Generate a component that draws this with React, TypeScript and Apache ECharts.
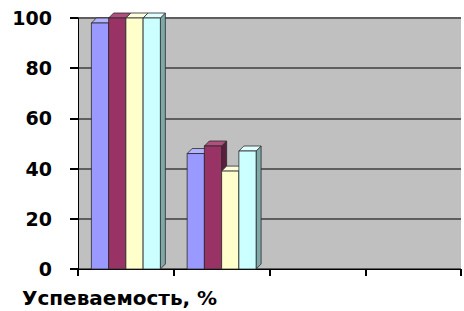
import React, { useEffect, useRef } from "react";
import * as echarts from "echarts";

const categories = ["1", "2", "3", "4"];
const seriesA = [98, 46];
const seriesB = [100, 49];
const seriesC = [100, 39];
const seriesD = [100, 47];
const yTicks = [0, 20, 40, 60, 80, 100];
const title = "Успеваемость, %";

const fills = ["#9999FF", "#993366", "#FFFFCC", "#CCFFFF"];
const sides = ["#6a6ab8", "#5c1f3d", "#b8b890", "#7fa8a8"];
const tops = ["#b3b3ff", "#b0507c", "#ffffe0", "#e0ffff"];

export default function App() {
  const ref = useRef<HTMLDivElement>(null);
  useEffect(() => {
    if (!ref.current) return;
    const chart = echarts.init(ref.current, undefined, { renderer: "svg" });
    const all = [seriesA, seriesB, seriesC, seriesD];
    const mk = (idx: number) => ({
      type: "custom",
      data: all[idx].map((v, i) => [i, v]),
      encode: { x: 0, y: 1 },
      renderItem: (params: any, api: any) => {
        const cat = api.value(0);
        const val = api.value(1);
        const band = api.size([1, 0])[0];
        const bw = band * 0.18;
        const base = api.coord([cat, 0]);
        const top = api.coord([cat, val]);
        const x0 = base[0] - (bw * 4) / 2 + idx * bw;
        const d = 5;
        const stroke = "#2a2a2a";
        return {
          type: "group",
          children: [
            {
              type: "polygon",
              shape: {
                points: [
                  [x0 + bw, top[1]],
                  [x0 + bw + d, top[1] - d],
                  [x0 + bw + d, base[1] - d],
                  [x0 + bw, base[1]],
                ],
              },
              style: { fill: sides[idx], stroke, lineWidth: 0.8 },
            },
            {
              type: "polygon",
              shape: {
                points: [
                  [x0, top[1]],
                  [x0 + d, top[1] - d],
                  [x0 + bw + d, top[1] - d],
                  [x0 + bw, top[1]],
                ],
              },
              style: { fill: tops[idx], stroke, lineWidth: 0.8 },
            },
            {
              type: "rect",
              shape: { x: x0, y: top[1], width: bw, height: base[1] - top[1] },
              style: { fill: fills[idx], stroke, lineWidth: 0.8 },
            },
          ],
        };
      },
    });
    chart.setOption({
      animation: false,
      title: {
        text: title,
        left: 22,
        top: 288,
        padding: 0,
        textStyle: {
          fontFamily: "DejaVu Sans",
          fontWeight: "bold",
          fontSize: 20,
          color: "#000",
        },
      },
      grid: {
        left: 78,
        right: 3,
        top: 18,
        bottom: 42,
        show: true,
        backgroundColor: "#c0c0c0",
        borderWidth: 0,
      },
      xAxis: {
        type: "category",
        data: categories,
        boundaryGap: true,
        axisLine: { show: true, lineStyle: { color: "#000", width: 1 } },
        axisTick: { show: true, length: 7, lineStyle: { color: "#000", width: 2 } },
        axisLabel: { show: false },
        splitLine: { show: false },
      },
      yAxis: {
        type: "value",
        min: yTicks[0],
        max: yTicks[yTicks.length - 1],
        interval: 20,
        axisLine: { show: true, lineStyle: { color: "#000", width: 1 } },
        axisTick: { show: true, length: 8, lineStyle: { color: "#000", width: 2 } },
        axisLabel: {
          margin: 26,
          fontFamily: "DejaVu Sans",
          fontWeight: "bold",
          fontSize: 19,
          color: "#000",
        },
        splitLine: { show: true, lineStyle: { color: "#5e5e5e", width: 2 } },
      },
      series: [mk(0), mk(1), mk(2), mk(3)],
    });
    return () => chart.dispose();
  }, []);
  return <div ref={ref} style={{ width: 464, height: 311, position: "absolute", left: 0, top: 0 }} />;
}
